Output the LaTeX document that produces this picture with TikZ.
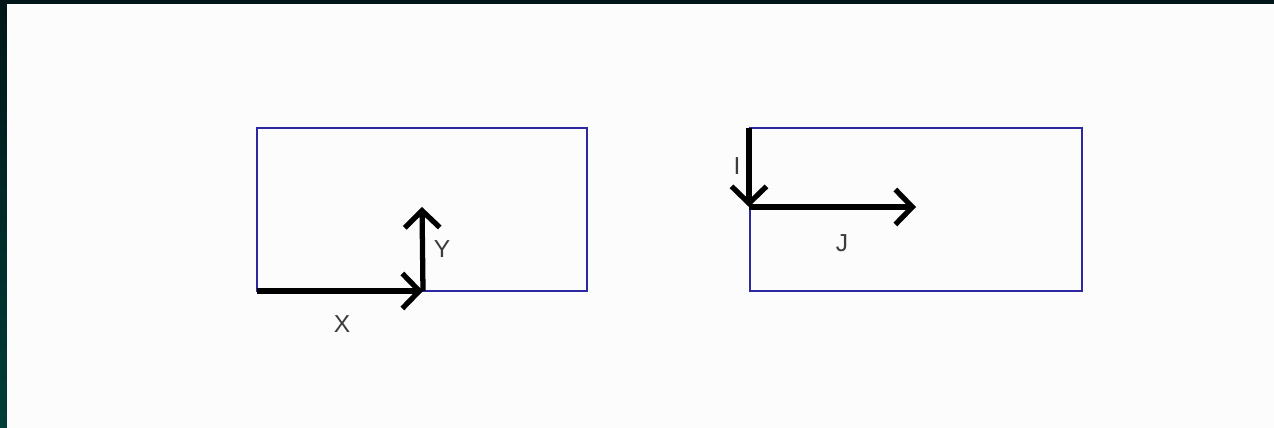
\documentclass[tikz,border=0pt]{standalone}
\usepackage{fontspec}
\setmainfont{Liberation Sans}
\usetikzlibrary{arrows.meta}
\definecolor{framecol}{RGB}{45,40,160}
\definecolor{bordertop}{RGB}{0,22,24}
\definecolor{borderbot}{RGB}{0,62,56}
\definecolor{labelcol}{RGB}{60,60,60}

\tikzset{
  frame/.style={draw=framecol,line width=1.4pt},
  axis/.style={line width=3pt,-{Straight Barb[length=0.34cm,width=0.70cm]}},
  axlabel/.style={text=labelcol,font=\fontsize{14}{16}\selectfont,inner sep=0pt}
}

\begin{document}
\begin{tikzpicture}[x=0.02cm,y=-0.02cm]
% page with dark edge
\shade[top color=bordertop,bottom color=borderbot] (0,0) rectangle (1274,428);
\fill[white!99!black] (7,4) rectangle (1274,428);
\useasboundingbox (0,0) rectangle (1274,428);
%left frame
\draw[frame] (257,128) rectangle (587,291);
\coordinate (xo) at (257,291);
\coordinate (xe) at (423,291);
\coordinate (ye) at (422,207);
\draw[axis] (xo) -- (xe);
\draw[axis] (xe) -- (ye);
\node[axlabel] (xlab) at (342,324) {X};
\node[axlabel] (ylab) at (442,249) {Y};
%right frame
\draw[frame] (750,128) rectangle (1082,291);
\coordinate (io) at (749,128);
\coordinate (ie) at (749,207);
\coordinate (je) at (916,207);
\draw[axis] (io) -- (ie);
\draw[axis] (ie) -- (je);
\node[axlabel] (ilab) at (737,166) {I};
\node[axlabel] (jlab) at (842,243) {J};
\end{tikzpicture}
\end{document}
